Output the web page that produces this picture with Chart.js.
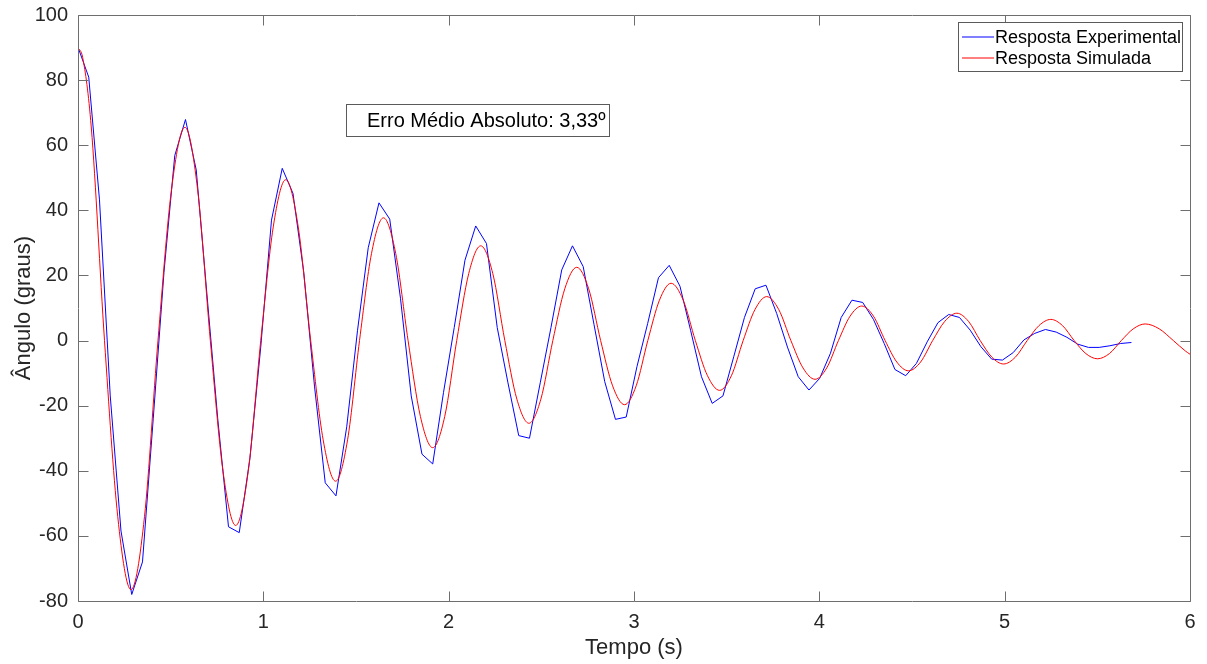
<!DOCTYPE html>
<html>
<head>
<meta charset="utf-8">
<script src="https://cdn.jsdelivr.net/npm/chart.js@4.4.1/dist/chart.umd.min.js"></script>
<style>
  html, body { margin: 0; background: #fff; }
  #wrap { width: 1207px; height: 664px; }
</style>
</head>
<body>
<div id="wrap"><canvas id="grafico"></canvas></div>
<script>
// Ensaio do pêndulo: amostras do sensor a cada 0,058 s
const passoAmostragem = 0.058;
const respostaExperimental = [
  90.1, 80.9, 43.2, -17, -58.5, -78, -68, -24, 21, 56.8,
  67.9, 52.4, 14, -24, -57.2, -59, -36, -2, 37, 52.9,
  45.2, 21, -14, -43.7, -47.7, -26.5, 3, 28.5, 42.3, 37.3,
  13, -17, -34.9, -37.9, -16, 4, 24.7, 35.2, 29.8, 4,
  -13, -29.2, -30, -13, 4, 21.7, 29.1, 22.7, 5, -12.6,
  -24.2, -23.5, -8, 5.3, 19.3, 23.1, 16.7, 3, -11.1, -19.3,
  -17, -5, 7.1, 15.9, 17, 8.3, -2, -11.1, -15.2, -11.6,
  -3.9, 7.1, 12.4, 11.7, 6.5, -0.9, -8.9, -10.8, -7, -0.4,
  5.5, 8, 7.1, 3.2, -1.9, -5.7, -6, -3.7, 0.2, 2.2,
  3.4, 2.6, 1, -1.1, -2.1, -2.1, -1.6, -0.9, -0.6
];

// Modelo simulado: picos, vales, cruzamentos por zero e pontos intermediários
const tempoSimulado = [
  0, 0.025, 0.0715, 0.143, 0.2145, 0.286, 0.3588, 0.4315, 0.5043, 0.577,
  0.6455, 0.714, 0.7825, 0.851, 0.9185, 0.986, 1.0535, 1.121,
  1.1883, 1.2555, 1.3228, 1.39, 1.4545, 1.519, 1.5835, 1.648,
  1.7145, 1.781, 1.8475, 1.914, 1.9788, 2.0435, 2.1083, 2.173,
  2.238, 2.303, 2.368, 2.433, 2.4975, 2.562, 2.6265, 2.691,
  2.7555, 2.82, 2.8845, 2.949, 3.0118, 3.0745, 3.1373, 3.2,
  3.2655, 3.331, 3.3965, 3.462, 3.5255, 3.589, 3.6525, 3.716,
  3.7813, 3.8465, 3.9118, 3.977, 4.04, 4.103, 4.166, 4.229,
  4.292, 4.355, 4.418, 4.481, 4.5463, 4.6115, 4.6768, 4.742,
  4.805, 4.868, 4.931, 4.994, 5.0578, 5.1215, 5.1853, 5.249,
  5.312, 5.375, 5.438, 5.501, 5.5653, 5.6295, 5.6938, 5.758,
  5.834, 5.91, 5.975, 6.0
];
const respostaSimulada = [
  90, 87, 65.6, 0, -54.1, -76.5, -54.1, 0, 46.3, 65.5,
  46.3, 0, -40.2, -56.8, -40.2, 0, 34.9, 49.4,
  34.9, 0, -30.5, -43.2, -30.5, 0, 26.7, 37.7,
  26.7, 0, -23.3, -32.9, -23.3, 0, 20.6, 29.1,
  20.6, 0, -18.0, -25.4, -18.0, 0, 15.9, 22.5,
  15.9, 0, -13.9, -19.7, -13.9, 0, 12.4, 17.6,
  12.4, 0, -10.8, -15.3, -10.8, 0, 9.5, 13.5,
  9.5, 0, -8.4, -11.9, -8.4, 0, 7.5, 10.6,
  7.5, 0, -6.6, -9.3, -6.6, 0, 5.9, 8.4,
  5.9, 0, -5.1, -7.2, -5.1, 0, 4.6, 6.5,
  4.6, 0, -4.0, -5.6, -4.0, 0, 3.6, 5.1,
  3.6, 0, -3.2, -4.2
];

const rotulos = ['Resposta Experimental', 'Resposta Simulada'];
const textoErro = 'Erro Médio Absoluto: 3,33º';

const fonte = '"Liberation Sans", Arial, Helvetica, sans-serif';
const corTexto = '#262626';
const corEixo = '#6e6e6e';

const pontosExp = respostaExperimental.map((v, k) => ({ x: k * passoAmostragem, y: v }));
const pontosSim = tempoSimulado.map((t, i) => ({ x: t, y: respostaSimulada[i] }));

// caixa, marcas internas, legenda e anotação no estilo MATLAB
const moldura = {
  id: 'moldura',
  afterDatasetsDraw(chart) {
    const { ctx, chartArea: a, scales } = chart;
    const L = Math.round(a.left) + 0.5, R = Math.round(a.right) + 0.5;
    const T = Math.round(a.top) + 0.5, B = Math.round(a.bottom) + 0.5;
    const tam = 10;
    ctx.save();
    ctx.strokeStyle = corEixo;
    ctx.lineWidth = 1;
    ctx.beginPath();
    scales.x.ticks.forEach(t => {
      const px = Math.round(scales.x.getPixelForValue(t.value)) + 0.5;
      ctx.moveTo(px, B); ctx.lineTo(px, B - tam);
      ctx.moveTo(px, T); ctx.lineTo(px, T + tam);
    });
    scales.y.ticks.forEach(t => {
      const py = Math.round(scales.y.getPixelForValue(t.value)) + 0.5;
      ctx.moveTo(L, py); ctx.lineTo(L + tam, py);
      ctx.moveTo(R, py); ctx.lineTo(R - tam, py);
    });
    ctx.rect(L, T, R - L, B - T);
    ctx.stroke();

    // legenda
    const lx = 958.5, ly = 22.5, lw = 224, lh = 49;
    ctx.fillStyle = '#fff';
    ctx.fillRect(lx, ly, lw, lh);
    ctx.strokeStyle = '#5a5a5a';
    ctx.strokeRect(lx, ly, lw, lh);
    ctx.font = '18px ' + fonte;
    ctx.textBaseline = 'middle';
    ctx.textAlign = 'left';
    chart.data.datasets.forEach((ds, i) => {
      const y = 37 + i * 21;
      ctx.strokeStyle = ds.borderColor;
      ctx.beginPath();
      ctx.moveTo(962, y); ctx.lineTo(994, y);
      ctx.stroke();
      ctx.fillStyle = '#000';
      ctx.fillText(ds.label, 995, y + 1);
    });

    // anotação do erro
    ctx.fillStyle = '#fff';
    ctx.fillRect(346.5, 104.5, 263, 32);
    ctx.strokeStyle = '#5a5a5a';
    ctx.strokeRect(346.5, 104.5, 263, 32);
    ctx.fillStyle = '#000';
    ctx.font = '20px ' + fonte;
    ctx.fillText(textoErro, 367, 121);
    ctx.restore();
  }
};

new Chart(document.getElementById('grafico'), {
  type: 'line',
  data: {
    datasets: [
      {
        label: rotulos[0],
        data: pontosExp,
        borderColor: '#0000ff',
        borderWidth: 1,
        pointRadius: 0,
        tension: 0,
        order: 1
      },
      {
        label: rotulos[1],
        data: pontosSim,
        borderColor: '#ff0000',
        borderWidth: 1,
        pointRadius: 0,
        cubicInterpolationMode: 'monotone',
        order: 0
      }
    ]
  },
  options: {
    responsive: true,
    maintainAspectRatio: false,
    animation: false,
    events: [],
    layout: { padding: { top: 15, right: 17, left: 0, bottom: 0 } },
    plugins: {
      legend: { display: false },
      tooltip: { enabled: false }
    },
    scales: {
      x: {
        type: 'linear',
        min: 0,
        max: 6,
        ticks: { stepSize: 1, color: corTexto, padding: 1, font: { family: fonte, size: 20 } },
        grid: { display: false },
        border: { display: false },
        title: {
          display: true,
          text: 'Tempo (s)',
          color: corTexto,
          font: { family: fonte, size: 22 },
          padding: { top: 0, bottom: 3 }
        },
        afterFit(s) { s.height = 63; }
      },
      y: {
        min: -80,
        max: 100,
        ticks: { stepSize: 20, color: corTexto, padding: 2, font: { family: fonte, size: 20 } },
        grid: { display: false },
        border: { display: false },
        title: {
          display: true,
          text: 'Ângulo (graus)',
          color: corTexto,
          font: { family: fonte, size: 22 },
          padding: { top: 11, bottom: 0 }
        },
        afterFit(s) { s.width = 78; }
      }
    }
  },
  plugins: [moldura]
});
</script>
</body>
</html>
